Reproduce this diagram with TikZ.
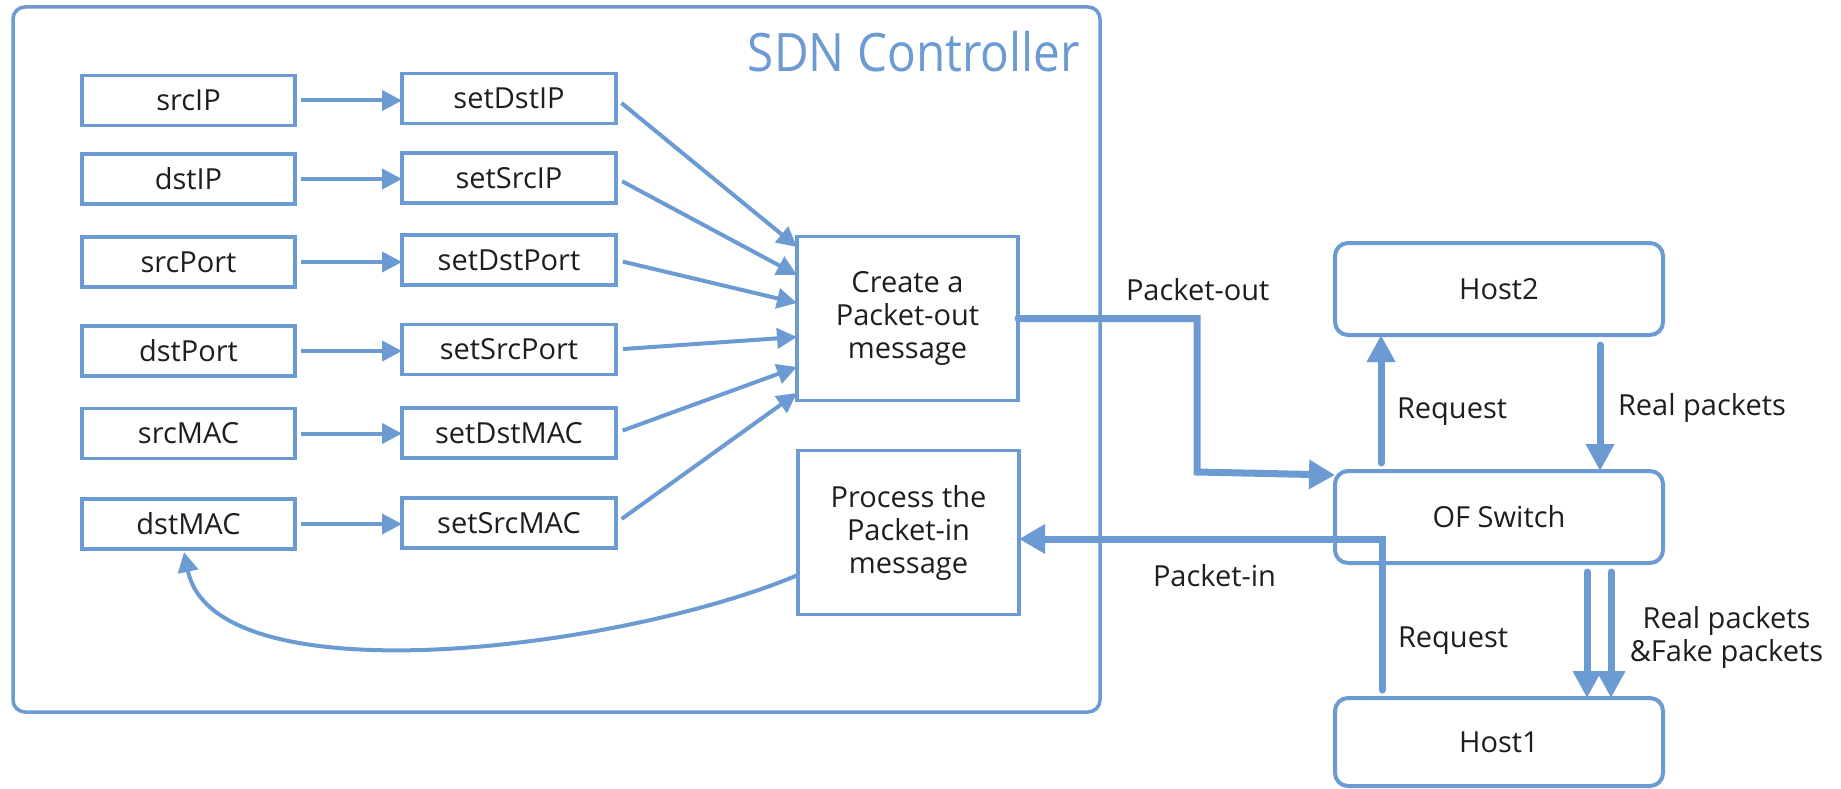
\documentclass[tikz,border=0pt]{standalone}
\usepackage{fontspec}
\setmainfont{Open Sans}
\newfontfamily\titlefont[FakeStretch=0.9]{Open Sans}
\usetikzlibrary{arrows.meta,calc}
\definecolor{lineblue}{HTML}{6B9BD2}
\definecolor{txt}{HTML}{1E1E1E}
\begin{document}
\begin{tikzpicture}[x=1pt,y=-1pt,
  every node/.style={text=txt, font=\fontsize{29}{33}\selectfont, inner sep=0pt, outer sep=0pt},
  fieldbox/.style={draw=lineblue, line width=3.5pt, minimum width=213pt, minimum height=50pt},
  setbox/.style={fieldbox, minimum width=214pt},
  msgbox/.style={draw=lineblue, line width=3.5pt, minimum width=221pt, minimum height=164pt, align=center},
  hostbox/.style={draw=lineblue, line width=4pt, rounded corners=13pt, minimum width=328pt, minimum height=92pt},
  thinarrow/.style={draw=lineblue, line width=4pt, -{Triangle[length=20pt,width=20pt]}},
  thickarrow/.style={draw=lineblue, line width=7pt, line cap=round, -{Triangle[length=26pt,width=28pt]}},
  hostarrow/.style={draw=lineblue, line width=7pt, line cap=round, -{Triangle[length=27pt,width=27pt]}},
  lbl/.style={anchor=base west},
]
\useasboundingbox (0,0) rectangle (1841,789);

% controller
\node[draw=lineblue, line width=3.5pt, rounded corners=12pt, minimum width=1087pt, minimum height=705pt] (ctrl) at (556.5,359.5) {};
\node[anchor=base east, text=lineblue, font=\titlefont\fontsize{53}{60}\selectfont] (title) at (1080,72) {SDN Controller};

% field boxes
\node[fieldbox] (srcIP)   at (188.5,100.5) {srcIP};
\node[fieldbox] (dstIP)   at (188.5,179)   {dstIP};
\node[fieldbox] (srcPort) at (188.5,262)   {srcPort};
\node[fieldbox] (dstPort) at (188.5,351)   {dstPort};
\node[fieldbox] (srcMAC)  at (188.5,433.5) {srcMAC};
\node[fieldbox] (dstMAC)  at (188.5,524)   {dstMAC};

\node[setbox] (setDstIP)   at (509,98.5)  {setDstIP};
\node[setbox] (setSrcIP)   at (509,178)   {setSrcIP};
\node[setbox] (setDstPort) at (509,260)   {setDstPort};
\node[setbox] (setSrcPort) at (509,349.5) {setSrcPort};
\node[setbox] (setDstMAC)  at (509,433)   {setDstMAC};
\node[setbox] (setSrcMAC)  at (509,523)   {setSrcMAC};

\node[msgbox] (create) at (907.5,318.5) {Create a\\Packet-out\\message};
\node[msgbox] (proc)   at (908.5,532.5) {Process the\\Packet-in\\message};

% hosts
\node[hostbox] (h2)  at (1499,289) {Host2};
\node[hostbox] (ofs) at (1499,517) {OF Switch};
\node[hostbox, minimum height=88pt] (h1) at (1499,742) {Host1};

% field -> set arrows
\foreach \a/\b in {srcIP/setDstIP, dstIP/setSrcIP, srcPort/setDstPort, dstPort/setSrcPort, srcMAC/setDstMAC, dstMAC/setSrcMAC}
  \draw[thinarrow, shorten <=6pt] (\a.east) -- (\a.east -| \b.west);

% set -> create arrows
\draw[thinarrow, shorten <=7pt] (setDstIP.east)   -- ([yshift=71.5pt]create.west);
\draw[thinarrow, shorten <=7pt] (setSrcIP.east)   -- ([yshift=43.5pt]create.west);
\draw[thinarrow, shorten <=7pt] (setDstPort.east) -- ([yshift=15.5pt]create.west);
\draw[thinarrow, shorten <=7pt] (setSrcPort.east) -- ([yshift=-18.5pt]create.west);
\draw[thinarrow, shorten <=7pt] (setDstMAC.east)  -- ([yshift=-48.5pt]create.west);
\draw[thinarrow, shorten <=7pt] (setSrcMAC.east)  -- ([yshift=-74.5pt]create.west);

% process -> dstMAC curve
\draw[thinarrow] ([yshift=-42.5pt]proc.west) .. controls (620,650) and (215,700) .. ([xshift=-4.5pt,yshift=-3pt]dstMAC.south);

% packet-out
\coordinate (po2) at (1197,472);
\draw[thickarrow] (create.east) -| (po2) -- ([yshift=-4pt]ofs.north west);

% packet-in
\draw[thickarrow] ([xshift=47pt,yshift=8pt]h1.north west) |- ([yshift=-6.5pt]proc.east);

% host arrows
\draw[hostarrow] ([xshift=46pt,yshift=8pt]ofs.north west) -- ([xshift=46pt]h2.south west);
\draw[hostarrow] ([xshift=265pt,yshift=-10pt]h2.south west) -- ([xshift=265pt]ofs.north west);
\draw[hostarrow] ([xshift=252pt,yshift=-9pt]ofs.south west) -- ([xshift=252pt]h1.north west);
\draw[hostarrow] ([xshift=276pt,yshift=-9pt]ofs.south west) -- ([xshift=276pt]h1.north west);

% labels
\node[lbl] (lpo)  at (1126,300) {Packet-out};
\node[lbl] (lrq1) at (1397,418) {Request};
\node[lbl] (lrp)  at (1618,415) {Real packets};
\node[lbl] (lpi)  at (1153,586) {Packet-in};
\node[lbl] (lrq2) at (1398,647) {Request};
\node[align=center] (lrf) at (1726.5,637) {Real packets\\\&Fake packets};
\end{tikzpicture}
\end{document}
